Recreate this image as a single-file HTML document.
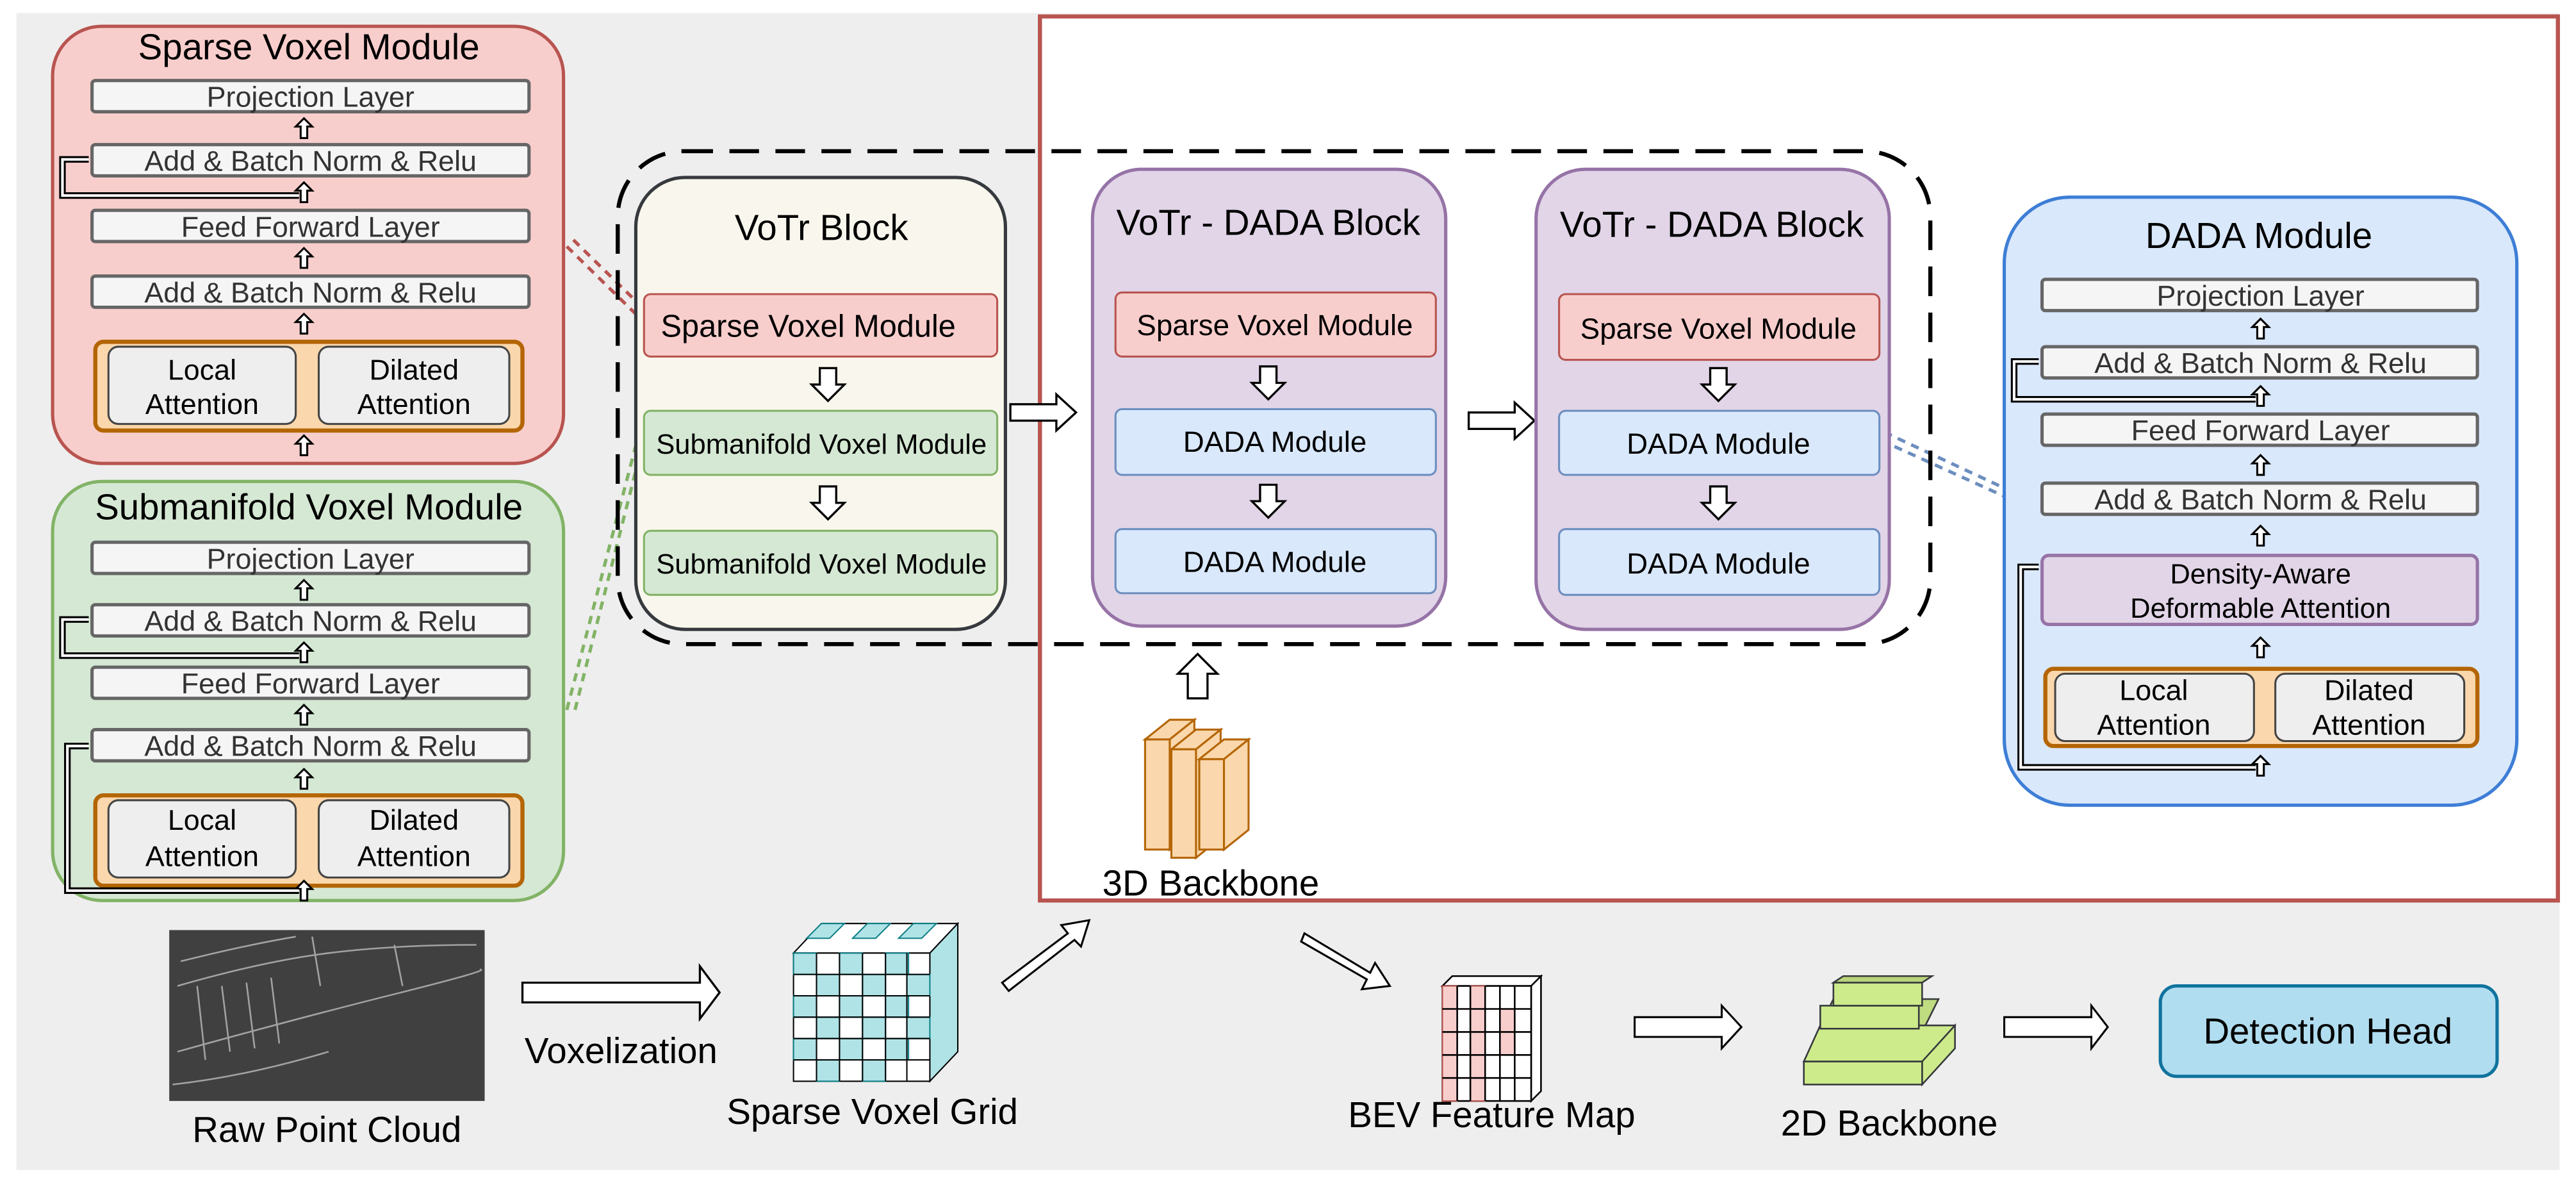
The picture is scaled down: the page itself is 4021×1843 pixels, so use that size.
<!DOCTYPE html>
<html><head><meta charset="utf-8"><style>
html,body{margin:0;padding:0;background:#fff;}
svg{display:block;}
text{font-family:"Liberation Sans",Arial,sans-serif;}
</style></head><body>
<svg width="4021" height="1843" viewBox="0 0 1568 718.7" xmlns="http://www.w3.org/2000/svg">
<defs>
<g id="ua"><polygon points="0,-6 5,-1 2,-1 2,6 -2,6 -2,-1 -5,-1" fill="#fff" stroke="#000" stroke-width="1.2"/></g>
<g id="da"><polygon points="-5,-10 5,-10 5,0 10,0 0,10 -10,0 -5,0" fill="#fff" stroke="#000" stroke-width="1.3"/></g>
<g id="ra"><polygon points="0,-5 28,-5 28,-11 40,0 28,11 28,5 0,5" fill="#fff" stroke="#000" stroke-width="1.3"/></g>
</defs>
<rect x="10" y="8" width="1548" height="704" fill="#eeeeee"/>
<rect x="633" y="10" width="924" height="538" fill="#fff" stroke="#b85450" stroke-width="2.5"/>

<!-- Sparse Voxel Module -->
<rect x="32" y="16" width="311" height="266" rx="30" fill="#f8cecc" stroke="#b85450" stroke-width="2"/>
<text x="188" y="36" font-size="22" text-anchor="middle">Sparse Voxel Module</text>
<g fill="#f5f5f5" stroke="#666" stroke-width="2">
<rect x="56" y="49" width="266" height="19" rx="2"/>
<rect x="56" y="88" width="266" height="19" rx="2"/>
<rect x="56" y="128" width="266" height="19" rx="2"/>
<rect x="56" y="168" width="266" height="19" rx="2"/>
</g>
<g font-size="17.5" fill="#333" text-anchor="middle">
<text x="189" y="65">Projection Layer</text>
<text x="189" y="104">Add &amp; Batch Norm &amp; Relu</text>
<text x="189" y="144">Feed Forward Layer</text>
<text x="189" y="184">Add &amp; Batch Norm &amp; Relu</text>
</g>
<rect x="58" y="208" width="260" height="54" rx="5" fill="#fad7ac" stroke="#b46504" stroke-width="2.5"/>
<rect x="66" y="211" width="114" height="47" rx="6" fill="#eee" stroke="#444" stroke-width="1.2"/>
<rect x="194" y="211" width="116" height="47" rx="6" fill="#eee" stroke="#444" stroke-width="1.2"/>
<g font-size="17.5" text-anchor="middle"><text x="123" y="231">Local</text><text x="123" y="252">Attention</text><text x="252" y="231">Dilated</text><text x="252" y="252">Attention</text></g>
<use href="#ua" x="185" y="78"/><use href="#ua" x="185" y="117"/><use href="#ua" x="185" y="157"/><use href="#ua" x="185" y="197"/><use href="#ua" x="185" y="271"/>
<polyline points="182,119 38,119 38,97 54,97" fill="none" stroke="#000" stroke-width="4"/>
<polyline points="182,119 38,119 38,97 54,97" fill="none" stroke="#fff" stroke-width="1.6"/>

<!-- Submanifold Voxel Module -->
<rect x="32" y="293" width="311" height="255" rx="30" fill="#d5e8d4" stroke="#82b366" stroke-width="2"/>
<text x="188" y="316" font-size="22" text-anchor="middle">Submanifold Voxel Module</text>
<g fill="#f5f5f5" stroke="#666" stroke-width="2">
<rect x="56" y="330" width="266" height="19" rx="2"/>
<rect x="56" y="368" width="266" height="19" rx="2"/>
<rect x="56" y="406" width="266" height="19" rx="2"/>
<rect x="56" y="444" width="266" height="19" rx="2"/>
</g>
<g font-size="17.5" fill="#333" text-anchor="middle">
<text x="189" y="346">Projection Layer</text>
<text x="189" y="384">Add &amp; Batch Norm &amp; Relu</text>
<text x="189" y="422">Feed Forward Layer</text>
<text x="189" y="460">Add &amp; Batch Norm &amp; Relu</text>
</g>
<rect x="58" y="484" width="260" height="55" rx="5" fill="#fad7ac" stroke="#b46504" stroke-width="2.5"/>
<rect x="66" y="487" width="114" height="47" rx="6" fill="#eee" stroke="#444" stroke-width="1.2"/>
<rect x="194" y="487" width="116" height="47" rx="6" fill="#eee" stroke="#444" stroke-width="1.2"/>
<g font-size="17.5" text-anchor="middle"><text x="123" y="505">Local</text><text x="123" y="527">Attention</text><text x="252" y="505">Dilated</text><text x="252" y="527">Attention</text></g>
<use href="#ua" x="185" y="359"/><use href="#ua" x="185" y="397"/><use href="#ua" x="185" y="435"/><use href="#ua" x="185" y="474"/><use href="#ua" x="185" y="542"/>
<polyline points="182,399 38,399 38,377 54,377" fill="none" stroke="#000" stroke-width="4"/>
<polyline points="182,399 38,399 38,377 54,377" fill="none" stroke="#fff" stroke-width="1.6"/>
<polyline points="182,542 41,542 41,454 54,454" fill="none" stroke="#000" stroke-width="4"/>
<polyline points="182,542 41,542 41,454 54,454" fill="none" stroke="#fff" stroke-width="1.6"/>

<!-- dashed connectors -->
<g fill="none" stroke-width="2" stroke-dasharray="5,4">
<path d="M345,150 L392,196" stroke="#b85450"/><path d="M349,146 L394,190" stroke="#b85450"/>
<path d="M345,432 L392,252" stroke="#82b366"/><path d="M350,432 L395,255" stroke="#82b366"/>
<path d="M1145,268 L1220,302" stroke="#6c8ebf"/><path d="M1147,263 L1220,297" stroke="#6c8ebf"/>
</g>

<!-- dashed outer -->
<rect x="376" y="92" width="799" height="300" rx="40" fill="none" stroke="#000" stroke-width="2.5" stroke-dasharray="18,10"/>

<!-- VoTr Block -->
<rect x="387" y="108" width="225" height="275" rx="30" fill="#f9f7ed" stroke="#36393d" stroke-width="2"/>
<text x="500" y="146" font-size="22" text-anchor="middle">VoTr Block</text>
<rect x="392" y="179" width="215" height="38" rx="4" fill="#f8cecc" stroke="#b85450" stroke-width="1.2"/>
<rect x="392" y="250" width="215" height="39" rx="4" fill="#d5e8d4" stroke="#82b366" stroke-width="1.2"/>
<rect x="392" y="323" width="215" height="39" rx="4" fill="#d5e8d4" stroke="#82b366" stroke-width="1.2"/>
<g font-size="17" text-anchor="middle"><text x="492" y="205" font-size="19">Sparse Voxel Module</text><text x="500" y="276">Submanifold Voxel Module</text><text x="500" y="349">Submanifold Voxel Module</text></g>
<use href="#da" x="504" y="234"/><use href="#da" x="504" y="306"/>

<use href="#ra" x="615" y="251"/>
<use href="#ra" x="894" y="256"/>

<!-- VoTr-DADA 1 -->
<rect x="665" y="103" width="215" height="278" rx="30" fill="#e1d5e7" stroke="#9673a6" stroke-width="2"/>
<text x="772" y="143" font-size="22" text-anchor="middle">VoTr - DADA Block</text>
<rect x="679" y="178" width="195" height="39" rx="4" fill="#f8cecc" stroke="#b85450" stroke-width="1.2"/>
<rect x="679" y="249" width="195" height="40" rx="4" fill="#dae8fc" stroke="#6c8ebf" stroke-width="1.2"/>
<rect x="679" y="322" width="195" height="39" rx="4" fill="#dae8fc" stroke="#6c8ebf" stroke-width="1.2"/>
<g font-size="17.8" text-anchor="middle"><text x="776" y="204">Sparse Voxel Module</text><text x="776" y="275">DADA Module</text><text x="776" y="348">DADA Module</text></g>
<use href="#da" x="772" y="233"/><use href="#da" x="772" y="305"/>

<!-- VoTr-DADA 2 -->
<rect x="935" y="103" width="215" height="280" rx="30" fill="#e1d5e7" stroke="#9673a6" stroke-width="2"/>
<text x="1042" y="144" font-size="22" text-anchor="middle">VoTr - DADA Block</text>
<rect x="949" y="179" width="195" height="40" rx="4" fill="#f8cecc" stroke="#b85450" stroke-width="1.2"/>
<rect x="949" y="250" width="195" height="39" rx="4" fill="#dae8fc" stroke="#6c8ebf" stroke-width="1.2"/>
<rect x="949" y="322" width="195" height="40" rx="4" fill="#dae8fc" stroke="#6c8ebf" stroke-width="1.2"/>
<g font-size="17.8" text-anchor="middle"><text x="1046" y="206">Sparse Voxel Module</text><text x="1046" y="276">DADA Module</text><text x="1046" y="349">DADA Module</text></g>
<use href="#da" x="1046" y="234"/><use href="#da" x="1046" y="306"/>

<!-- up arrow to blocks -->
<polygon points="729,398 741,410 735,410 735,425 723,425 723,410 717,410" fill="#fff" stroke="#000" stroke-width="1.3"/>

<!-- 3D backbone -->
<g stroke="#b46504" stroke-width="1.2" fill="#fad7ac">
<polygon points="697,450 712,438 727,438 712,450"/><polygon points="712,450 727,438 727,505 712,517"/><rect x="697" y="450" width="15" height="67"/>
<polygon points="713,456 728,444 743,444 728,456"/><polygon points="728,456 743,444 743,510 728,522"/><rect x="713" y="456" width="15" height="66"/>
<polygon points="730,462 745,450 760,450 745,462"/><polygon points="745,462 760,450 760,505 745,517"/><rect x="730" y="462" width="15" height="55"/>
</g>
<text x="737" y="545" font-size="22" text-anchor="middle">3D Backbone</text>

<!-- DADA Module big -->
<rect x="1220" y="120" width="312" height="370" rx="40" fill="#dae8fc" stroke="#3d7ed6" stroke-width="2"/>
<text x="1375" y="151" font-size="22" text-anchor="middle">DADA Module</text>
<g fill="#f5f5f5" stroke="#666" stroke-width="2">
<rect x="1243" y="170" width="265" height="19" rx="2"/>
<rect x="1243" y="211" width="265" height="19" rx="2"/>
<rect x="1243" y="252" width="265" height="19" rx="2"/>
<rect x="1243" y="294" width="265" height="19" rx="2"/>
</g>
<g font-size="17.5" fill="#333" text-anchor="middle">
<text x="1376" y="186">Projection Layer</text>
<text x="1376" y="227">Add &amp; Batch Norm &amp; Relu</text>
<text x="1376" y="268">Feed Forward Layer</text>
<text x="1376" y="310">Add &amp; Batch Norm &amp; Relu</text>
</g>
<rect x="1243" y="338" width="265" height="42" rx="4" fill="#e1d5e7" stroke="#9673a6" stroke-width="2"/>
<text x="1376" y="355" font-size="17" text-anchor="middle">Density-Aware</text>
<text x="1376" y="376" font-size="17" text-anchor="middle">Deformable Attention</text>
<rect x="1245" y="407" width="263" height="47" rx="5" fill="#fad7ac" stroke="#b46504" stroke-width="2.5"/>
<rect x="1251" y="410" width="121" height="41" rx="6" fill="#eee" stroke="#444" stroke-width="1.2"/>
<rect x="1385" y="410" width="115" height="41" rx="6" fill="#eee" stroke="#444" stroke-width="1.2"/>
<g font-size="17.5" text-anchor="middle"><text x="1311" y="426">Local</text><text x="1311" y="447">Attention</text><text x="1442" y="426">Dilated</text><text x="1442" y="447">Attention</text></g>
<use href="#ua" x="1376" y="200"/><use href="#ua" x="1376" y="241"/><use href="#ua" x="1376" y="283"/><use href="#ua" x="1376" y="326"/><use href="#ua" x="1376" y="394"/><use href="#ua" x="1376" y="466"/>
<polyline points="1373,243 1226,243 1226,220 1241,220" fill="none" stroke="#000" stroke-width="4"/>
<polyline points="1373,243 1226,243 1226,220 1241,220" fill="none" stroke="#fff" stroke-width="1.6"/>
<polyline points="1373,467 1230,467 1230,345 1241,345" fill="none" stroke="#000" stroke-width="4"/>
<polyline points="1373,467 1230,467 1230,345 1241,345" fill="none" stroke="#fff" stroke-width="1.6"/>

<!-- Bottom pipeline -->
<rect x="103" y="566" width="192" height="104" fill="#404040"/>
<g stroke="#bbb" stroke-width="1" fill="none" opacity="0.8">
<path d="M108,600 Q160,585 200,580 T290,575"/><path d="M108,640 Q180,620 240,605 T292,590"/>
<path d="M110,585 Q150,575 180,570"/><path d="M105,660 Q150,655 200,640"/>
<path d="M120,600 L125,645"/><path d="M135,600 L140,640"/><path d="M150,598 L155,638"/><path d="M165,595 L170,635"/>
<path d="M190,570 L195,600"/><path d="M240,575 L245,600"/>
</g>
<text x="199" y="695" font-size="22" text-anchor="middle">Raw Point Cloud</text>

<polygon points="318,598 426,598 426,588 438,604 426,620 426,610 318,610" fill="#fff" stroke="#000" stroke-width="1.3"/>
<text x="378" y="647" font-size="22" text-anchor="middle">Voxelization</text>

<!-- voxel grid -->
<g stroke="#000" stroke-width="0.8">
<polygon points="483,580 500,562 583,562 566,580" fill="#fff"/>
<polygon points="566,580 583,562 583,640 566,658" fill="#b0e3e6"/>
<rect x="483" y="580" width="83" height="78" fill="#fff"/>
</g>
<g fill="#b0e3e6" stroke="#0e8088" stroke-width="0.8">
<rect x="483" y="580" width="14" height="13"/><rect x="511" y="580" width="14" height="13"/><rect x="539" y="580" width="14" height="13"/>
<rect x="497" y="593" width="14" height="13"/><rect x="525" y="593" width="14" height="13"/><rect x="552" y="593" width="14" height="13"/>
<rect x="483" y="606" width="14" height="13"/><rect x="511" y="606" width="14" height="13"/><rect x="539" y="606" width="14" height="13"/>
<rect x="497" y="619" width="14" height="13"/><rect x="525" y="619" width="14" height="13"/><rect x="552" y="619" width="14" height="13"/>
<rect x="483" y="632" width="14" height="13"/><rect x="511" y="632" width="14" height="13"/><rect x="539" y="632" width="14" height="13"/>
<rect x="497" y="645" width="14" height="13"/><rect x="525" y="645" width="14" height="13"/>
<polygon points="500,562 514,562 505,571 491,571"/><polygon points="528,562 542,562 533,571 519,571"/><polygon points="556,562 570,562 561,571 547,571"/>
</g>
<g stroke="#000" stroke-width="0.8" fill="none">
<path d="M497,580 V658 M511,580 V658 M525,580 V658 M539,580 V658 M552,580 V658 M483,593 H566 M483,606 H566 M483,619 H566 M483,632 H566 M483,645 H566"/>
</g>
<text x="531" y="684" font-size="22" text-anchor="middle">Sparse Voxel Grid</text>

<polygon points="610,598 650,568 646,563 663,560 658,576 654,572 614,603" fill="#fff" stroke="#000" stroke-width="1.2"/>
<polygon points="794,568 834,592 837,586 846,600 829,602 832,596 792,573" fill="#fff" stroke="#000" stroke-width="1.2"/>

<!-- BEV map -->
<g stroke="#000" stroke-width="1">
<polygon points="878,600 884,594 938,594 932,600" fill="#fff"/>
<polygon points="932,600 938,594 938,664 932,670" fill="#fff"/>
<rect x="878" y="600" width="54" height="70" fill="#fff"/>
</g>
<g fill="#f8cecc" stroke="#b85450" stroke-width="0.8">
<rect x="878" y="600" width="9" height="70"/><rect x="895" y="600" width="9" height="70"/><rect x="913" y="614" width="9" height="28"/>
</g>
<g stroke="#000" stroke-width="1" fill="none"><path d="M878,614 H932 M878,628 H932 M878,642 H932 M878,656 H932 M887,600 V670 M895,600 V670 M904,600 V670 M913,600 V670 M922,600 V670"/></g>
<text x="908" y="686" font-size="22" text-anchor="middle">BEV Feature Map</text>

<polygon points="995,619 1048,619 1048,612 1060,625 1048,638 1048,631 995,631" fill="#fff" stroke="#000" stroke-width="1.2"/>

<!-- 2D backbone -->
<g stroke="#36393d" stroke-width="1" fill="#cdeb8b">
<polygon points="1098,646 1108,624 1190,624 1180,646"/><polygon points="1170,646 1190,624 1190,638 1170,660"/><rect x="1098" y="646" width="72" height="14"/>
<polygon points="1108,624 1116,608 1180,608 1172,624" fill="#bfdc80"/><rect x="1108" y="612" width="60" height="14"/>
<polygon points="1116,598 1122,594 1176,594 1170,598" fill="#b9d47a"/><rect x="1116" y="598" width="54" height="14"/>
</g>
<text x="1150" y="691" font-size="22" text-anchor="middle">2D Backbone</text>

<polygon points="1220,619 1273,619 1273,612 1283,625 1273,638 1273,631 1220,631" fill="#fff" stroke="#000" stroke-width="1.2"/>

<rect x="1315" y="600" width="205" height="55" rx="10" fill="#b1ddf0" stroke="#10739e" stroke-width="2"/>
<text x="1417" y="635" font-size="22" text-anchor="middle">Detection Head</text>
</svg>
</body></html>
